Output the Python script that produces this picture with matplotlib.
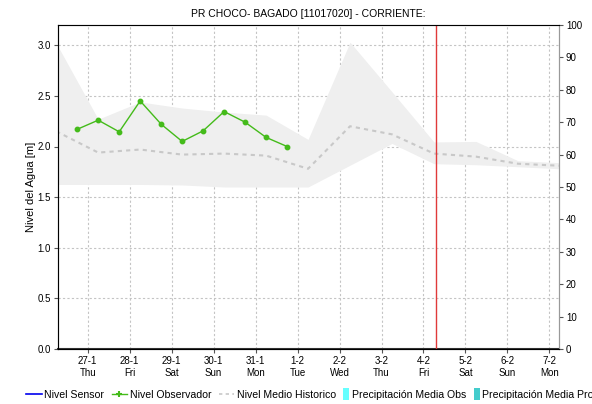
import pandas as pd
import matplotlib
matplotlib.use("Agg")
import matplotlib.pyplot as plt
import matplotlib.dates as mdates
from matplotlib.lines import Line2D
from matplotlib.patches import Patch, Rectangle
from matplotlib.legend_handler import HandlerPatch

plt.rcParams['font.family'] = ['Liberation Sans', 'DejaVu Sans']

# observaciones (06:00 y 18:00)
obs_times = pd.date_range('2022-01-26 18:00', periods=11, freq='12h')
obs_nivel = [2.17, 2.26, 2.145, 2.45, 2.22, 2.05, 2.155, 2.345, 2.24, 2.09, 2.0]

# historico diario
hist_times = pd.date_range('2022-01-26 06:00', periods=13, freq='D')
hist_medio = [2.15, 1.94, 1.97, 1.92, 1.93, 1.91, 1.78, 2.20, 2.12, 1.93, 1.90, 1.83, 1.81]
hist_max = [3.02, 2.27, 2.44, 2.38, 2.34, 2.31, 2.07, 3.03, 2.54, 2.045, 2.05, 1.86, 1.84]
hist_min = [1.625, 1.625, 1.625, 1.62, 1.60, 1.60, 1.60, 1.815, 2.03, 1.83, 1.82, 1.80, 1.78]

ahora = pd.Timestamp('2022-02-04 07:00')
x_ini = pd.Timestamp('2022-01-26 07:00')
x_fin = pd.Timestamp('2022-02-07 05:30')


class NarrowPatch(HandlerPatch):
    # cuadrito angosto en la leyenda
    def legend_artist(self, legend, orig_handle, fontsize, handlebox):
        handlebox.width = 4.5
        return super().legend_artist(legend, orig_handle, fontsize, handlebox)

    def create_artists(self, legend, orig_handle, xdescent, ydescent,
                       width, height, fontsize, trans):
        p = Rectangle((-xdescent, -ydescent + height / 2 - 4.3), 4.5, 8.6,
                      facecolor=orig_handle.get_facecolor(), lw=0)
        p.set_transform(trans)
        return [p]


fig = plt.figure(figsize=(5.92, 4.04), dpi=100)
ax = fig.add_axes([58/592, 55/404, 501/592, 324/404])

ax.fill_between(hist_times, hist_min, hist_max, color='#efefef', lw=0, zorder=1)
ax.plot(hist_times, hist_medio, color='#c8c8c8', lw=1.5, ls=(0, (2, 2)), zorder=3)
ax.plot(obs_times, obs_nivel, color='#44bb1a', lw=1, marker='o', ms=3.2, zorder=4)
ax.axvline(ahora, color='#e03a3a', lw=1, zorder=5)

ax.set_xlim(x_ini, x_fin)
ax.set_ylim(0, 3.2)
ax.set_yticks([0, 0.5, 1.0, 1.5, 2.0, 2.5, 3.0])
ax.yaxis.set_major_formatter(plt.FormatStrFormatter('%.1f'))
ax.xaxis.set_major_locator(mdates.DayLocator())
ax.xaxis.set_major_formatter(mdates.DateFormatter('%-d-%-m\n%a'))
ax.grid(True, color='#c4c4c4', lw=0.8, ls=(0, (2, 2)), zorder=0)
ax.set_axisbelow(True)
ax.tick_params(labelsize=7, length=3, color='#555555', pad=2)
ax.set_ylabel('Nivel del Agua [m]', fontsize=8, labelpad=1)
ax.set_title('PR CHOCO- BAGADO [11017020] - CORRIENTE:', fontsize=7.5, pad=6)

for s in ['top', 'right']:
    ax.spines[s].set_color('#999999')
ax.spines['left'].set_color('#666666')
ax.spines['bottom'].set_color('#333333')
ax.spines['bottom'].set_linestyle((0, (1, 1)))
ax.spines['bottom'].set_linewidth(1.5)

ax2 = ax.twinx()
ax2.set_ylim(0, 100)
ax2.set_yticks(range(0, 101, 10))
ax2.tick_params(labelsize=7, length=3, color='#555555', pad=2)
ax2.spines['right'].set_color('#999999')
ax2.set_ylabel('Precipitación [mm]', fontsize=8, rotation=270, labelpad=18)

handles = [
    Line2D([], [], color='#0000ee', lw=1.2),
    Line2D([], [], color='#44bb1a', lw=1, marker='+', ms=4, mew=1.5),
    Line2D([], [], color='#c8c8c8', lw=1.2, ls=(0, (2, 2))),
    Patch(color='#66ffff'),
    Patch(color='#44cccc'),
]
labels = ['Nivel Sensor', 'Nivel Observador', 'Nivel Medio Historico',
          'Precipitación Media Obs', 'Precipitación Media Pronostico']
fig.legend(handles, labels, loc='lower left', bbox_to_anchor=(20/592, -0.005),
           ncol=5, frameon=False, fontsize=7.6, handlelength=1.45,
           handletextpad=0.25, columnspacing=0.7, borderaxespad=0.2,
           handler_map={Patch: NarrowPatch()})

fig.savefig('out.png', dpi=100)
